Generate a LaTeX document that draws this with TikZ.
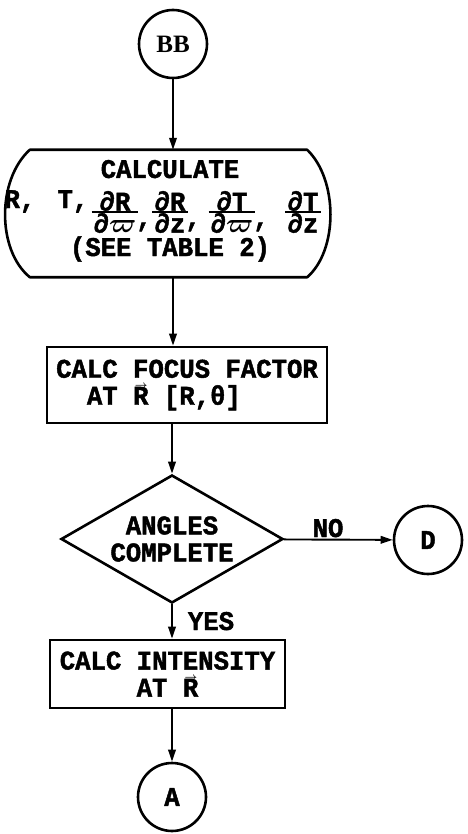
\documentclass[tikz,border=0pt]{standalone}
\usepackage{fix-cm}
\usepackage{fontspec}
\usetikzlibrary{shapes.geometric,arrows.meta}
\newfontfamily\twfont{Liberation Mono}[FakeStretch=0.95, BoldFeatures={FakeBold=1.6}]
\newfontfamily\bbserif{Liberation Serif}
\tikzset{
  tw/.style={font=\twfont\bfseries\boldmath\fontsize{27}{27}\selectfont},
  box/.style={tw, draw, line width=2.6pt, inner sep=0pt, align=center},
  term/.style={draw, circle, line width=2.6pt, minimum size=68pt, inner sep=0pt},
  flow/.style={line width=1.9pt, -{Triangle[length=12pt,width=7.5pt]}},
  fracnode/.style={font=\twfont\bfseries\boldmath\fontsize{27}{22}\selectfont,
    align=center, inner xsep=2pt, inner ysep=0pt},
  fracbar/.style={line width=1.4pt},
}
% R with a small arrow set just above it
\newcommand\vR{\leavevmode\rlap{\hbox to 0.6em{\hss\raisebox{16pt}{%
  \fontsize{11}{11}\selectfont$\rightarrow$}\hss}}R}
\newcommand\rcomma{\rlap{\raisebox{6pt}{,}}}

\begin{document}
\begin{tikzpicture}[x=1pt,y=-1pt]
\useasboundingbox (0,0) rectangle (467,834);

% entry connector
\node[term, font=\bbserif\bfseries\fontsize{25}{28}\selectfont] (bb) at (173,44) {BB};

% calculation block with curved sides
\node[minimum width=277pt, minimum height=127pt, inner sep=0pt] (calc) at (168.5,213.5) {};
\draw[line width=2.6pt, line join=round]
  (calc.north west) -- (calc.north east)
  .. controls +(31,30) and +(31,-27) .. (calc.south east)
  -- (calc.south west)
  .. controls +(-33,-27) and +(-33,30) .. (calc.north west) -- cycle;

\node[tw, anchor=base] (t1) at (170,178) {CALCULATE};
\node[tw, anchor=base west] (t2) at (1,208) {R,};
\node[tw, anchor=base west] (t3) at (54,208) {T,};
\node[fracnode] (f1) at (115,212) {∂R\\∂$\varpi$\rcomma};
\node[fracnode] (f2) at (170,212) {∂R\\∂z\rcomma};
\node[fracnode] (f3) at (232,212) {∂T\\∂$\varpi$\rcomma};
\node[fracnode] (f4) at (303,212) {∂T\\∂z};
\foreach \f in {f1,f2,f3,f4} \draw[fracbar] (\f.west) -- (\f.east);
\node[tw, anchor=base] (t4) at (170,256) {(SEE TABLE 2)};

% focus factor
\node[box, minimum width=280pt, minimum height=76pt, align=left] (focus) at (187,385)
  {CALC FOCUS FACTOR\\\phantom{CA}AT \vR{} [R,θ]};

% decision
\node[tw, diamond, draw, line width=2.6pt, minimum width=222pt, minimum height=128pt,
  shape aspect=1.7, inner sep=0pt, align=center] (dia) at (172,539) {ANGLES\\COMPLETE};
\node[term, tw] (d) at (428,540) {D};
\node[tw, anchor=base] (no) at (328,537) {NO};
\node[tw, anchor=base] (yes) at (211,630) {YES};

% intensity
\node[box, minimum width=235pt, minimum height=68pt] (inten) at (167.5,674)
  {CALC INTENSITY\\AT \vR};

% exit connector
\node[term, tw] (a) at (172,797) {A};

% flow lines
\draw[flow] (bb) -- (bb |- calc.north);
\draw[flow] (bb |- calc.south) -- (bb |- focus.north);
\draw[flow] (dia |- focus.south) -- (dia);
\draw[flow] (dia) -- (d);
\draw[flow] (dia) -- (dia |- inten.north);
\draw[flow] (dia |- inten.south) -- (a);
\end{tikzpicture}
\end{document}
